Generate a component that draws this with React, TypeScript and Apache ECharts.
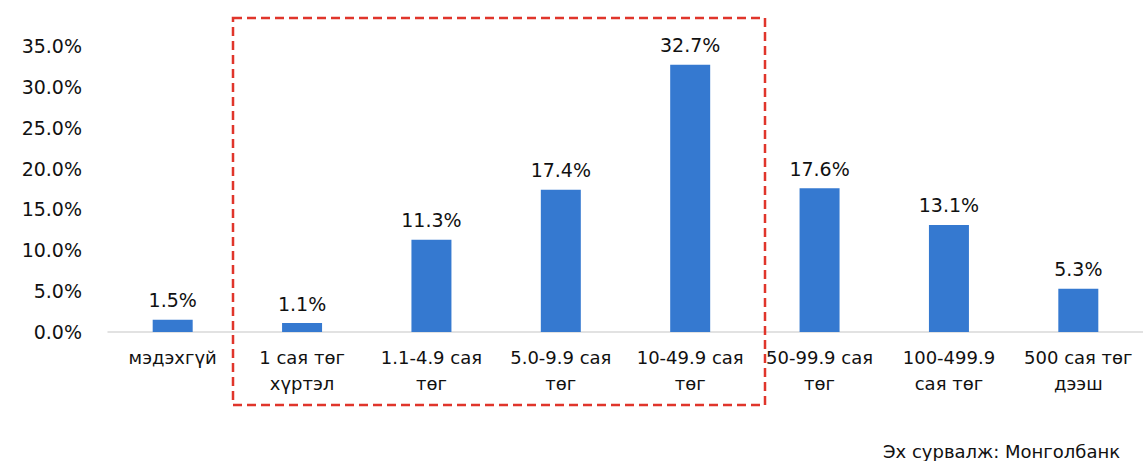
import React, { useEffect, useRef } from "react";
import * as echarts from "echarts";

const categories = [
  "мэдэхгүй",
  "1 сая төг\nхүртэл",
  "1.1-4.9 сая\nтөг",
  "5.0-9.9 сая\nтөг",
  "10-49.9 сая\nтөг",
  "50-99.9 сая\nтөг",
  "100-499.9\nсая төг",
  "500 сая төг\nдээш",
];
const values = [1.5, 1.1, 11.3, 17.4, 32.7, 17.6, 13.1, 5.3];
const sourceText = "Эх сурвалж: Монголбанк";

export default function App() {
  const ref = useRef<HTMLDivElement>(null);
  useEffect(() => {
    if (!ref.current) return;
    const chart = echarts.init(ref.current, null, { renderer: "svg" });
    const font = "'DejaVu Sans', Arial, sans-serif";
    chart.setOption({
      animation: false,
      backgroundColor: "#ffffff",
      grid: { left: 108, right: -5, top: 46, bottom: 129, containLabel: false },
      xAxis: {
        type: "category",
        data: categories,
        axisLine: { show: true, lineStyle: { color: "#d9d9d9", width: 1.5 } },
        axisTick: { show: false },
        axisLabel: {
          interval: 0,
          color: "#111111",
          fontSize: 18,
          fontFamily: font,
          lineHeight: 26,
          margin: 12,
        },
      },
      yAxis: {
        type: "value",
        min: 0,
        max: 35,
        interval: 5,
        axisLine: { show: false },
        axisTick: { show: false },
        splitLine: { show: false },
        axisLabel: {
          color: "#111111",
          fontSize: 19,
          fontFamily: font,
          margin: 26,
          formatter: (v: number) => v.toFixed(1) + "%",
        },
      },
      series: [
        {
          type: "bar",
          data: values,
          barWidth: 40,
          itemStyle: { color: "#3579d0" },
          label: {
            show: true,
            position: "top",
            distance: 10,
            color: "#111111",
            fontSize: 19,
            fontFamily: font,
            formatter: (p: any) => p.value.toFixed(1) + "%",
          },
        },
      ],
      graphic: [
        {
          type: "rect",
          shape: { x: 233, y: 18, width: 532, height: 387 },
          style: {
            fill: "none",
            stroke: "#e0352b",
            lineWidth: 2.5,
            lineDash: [9, 5],
          },
          z: 100,
        },
        {
          type: "text",
          x: 883,
          y: 442,
          style: {
            text: sourceText,
            fill: "#111111",
            fontSize: 18,
            fontFamily: font,
          },
        },
      ],
    });
    return () => chart.dispose();
  }, []);
  return (
    <div
      ref={ref}
      style={{ position: "fixed", left: 0, top: 0, width: 1143, height: 461 }}
    />
  );
}
